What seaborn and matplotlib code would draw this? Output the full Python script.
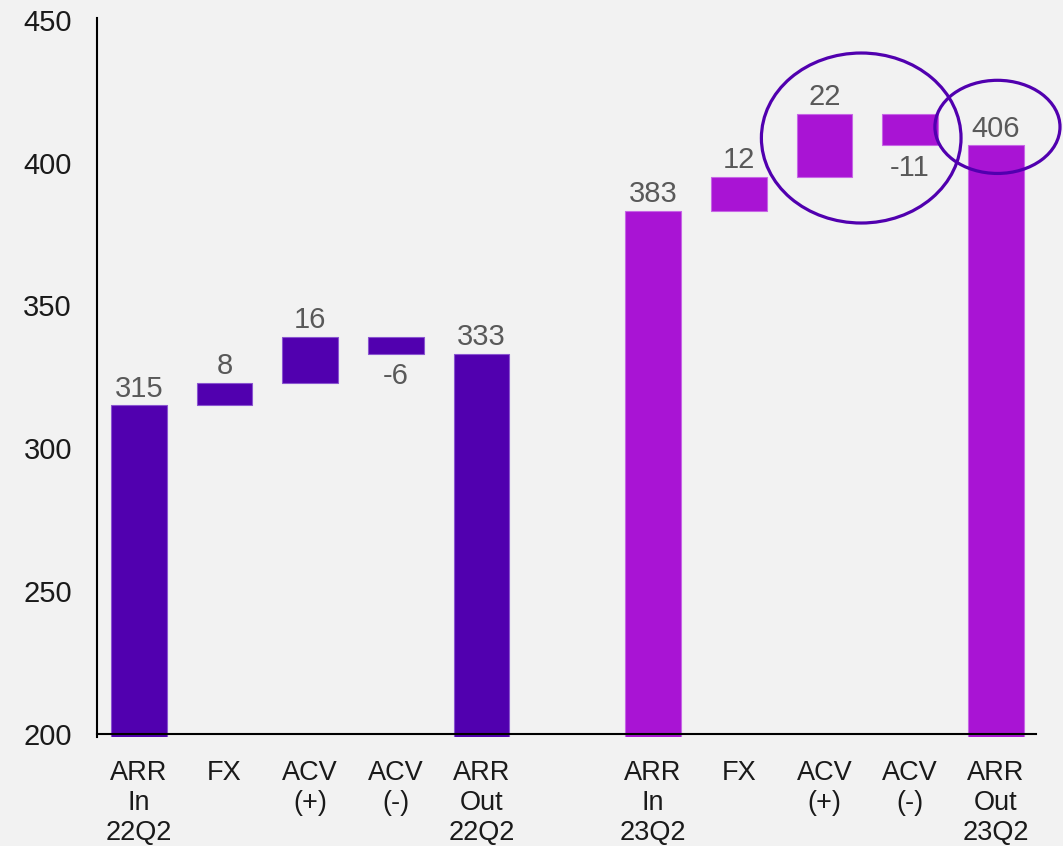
import numpy as np
import pandas as pd
import seaborn as sns
import matplotlib
import matplotlib.pyplot as plt
from matplotlib.patches import Ellipse

sns.set_style('white')
matplotlib.rcParams['font.family'] = ['Liberation Sans', 'DejaVu Sans']

# data
periods = ["22Q2", "23Q2"]
arr_in = [315, 383]
fx = [8, 12]
acv_plus = [16, 22]
acv_minus = [-6, -11]
colors = ["#5100AF", "#A914D4"]
edge_colors = ["#8a55d0", "#c766e6"]

step_labels = ["ARR\nIn\n{}", "FX", "ACV\n(+)", "ACV\n(-)", "ARR\nOut\n{}"]

fig, ax = plt.subplots(figsize=(10.63, 8.46), dpi=100)
fig.patch.set_facecolor('#f2f2f2')
ax.set_facecolor('#f2f2f2')

tick_pos = []
tick_lab = []
for i, period in enumerate(periods):
    changes = [fx[i], acv_plus[i], acv_minus[i]]
    levels = np.cumsum([arr_in[i]] + changes)
    arr_out = levels[-1]
    pos = np.arange(5) + i * 6
    heights = [arr_in[i]] + [abs(c) for c in changes] + [arr_out]
    bottoms = [0] + [min(levels[k], levels[k + 1]) for k in range(3)] + [0]
    values = [arr_in[i]] + changes + [arr_out]
    df = pd.DataFrame({"pos": pos, "height": heights})
    sns.barplot(data=df, x="pos", y="height", native_scale=True, width=0.65,
                color=colors[i], saturation=1, errorbar=None, ax=ax,
                bottom=bottoms, edgecolor=edge_colors[i], linewidth=0.8)
    for p, v, b, h in zip(pos, values, bottoms, heights):
        if v >= 0:
            ax.annotate(f"{v:g}", (p, b + h), xytext=(0, 2), textcoords='offset points',
                        ha='center', va='bottom', fontsize=21, color='#595959')
        else:
            ax.annotate(f"{v:g}", (p, b), xytext=(0, -6), textcoords='offset points',
                        ha='center', va='top', fontsize=21, color='#595959')
    tick_pos += list(pos)
    tick_lab += [s.format(period) for s in step_labels]

# highlight circles
ax.add_patch(Ellipse((8.43, 408.6), 2.33, 59.5, fill=False, edgecolor='#5100AF',
                     linewidth=2.3, clip_on=False, zorder=5))
ax.add_patch(Ellipse((10.02, 412.5), 1.46, 32.6, fill=False, edgecolor='#5100AF',
                     linewidth=2.3, clip_on=False, zorder=5))

ax.set_xlim(-0.49, 10.47)
ax.set_ylim(199, 450.6)
ax.set_xlabel("")
ax.set_ylabel("")

sns.despine(ax=ax)
ax.spines['bottom'].set_position(('data', 200))
for s in ['left', 'bottom']:
    ax.spines[s].set_color('black')
    ax.spines[s].set_linewidth(1.5)

ax.tick_params(axis='y', labelsize=21, length=0, pad=18, colors='#1a1a1a')
ax.tick_params(axis='x', labelsize=19.5, length=0, pad=19, colors='#1a1a1a')
ax.set_yticks([200, 250, 300, 350, 400, 450])
ax.set_xticks(tick_pos)
ax.set_xticklabels(tick_lab)
plt.setp(ax.get_xticklabels(), fontsize=19.5, linespacing=1.2)

fig.subplots_adjust(left=0.0912, right=0.9746, bottom=0.129, top=0.9787)
fig.savefig('out.png', dpi=100, facecolor=fig.get_facecolor())
